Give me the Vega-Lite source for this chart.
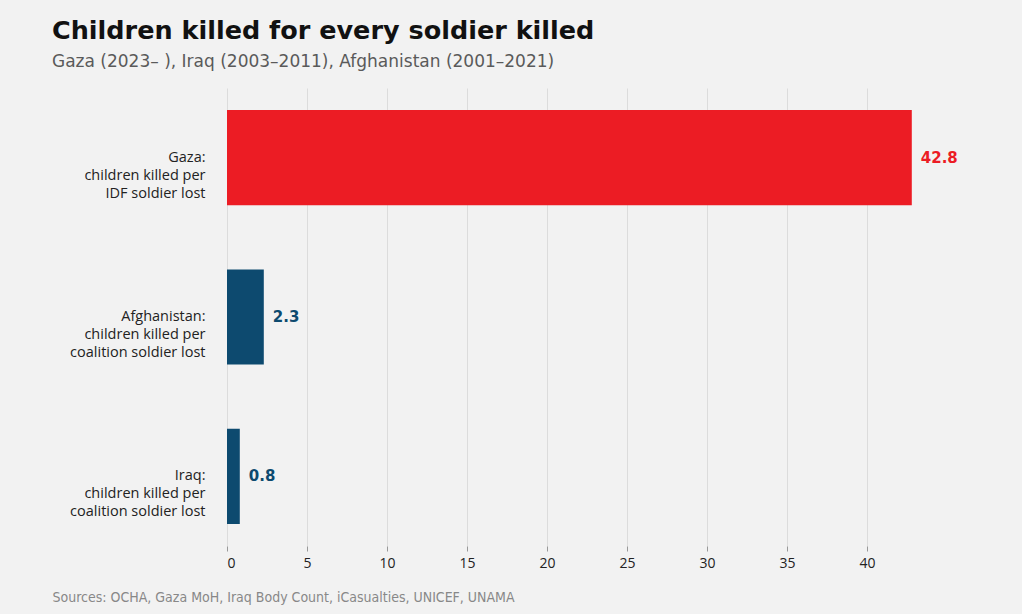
{
  "$schema": "https://vega.github.io/schema/vega-lite/v6.json",
  "autosize": {"type": "none"},
  "width": 720,
  "height": 458,
  "padding": {"left": 227, "top": 88, "right": 75, "bottom": 68},
  "background": "#f2f2f2",
  "title": {
    "text": "Children killed for every soldier killed",
    "subtitle": "Gaza (2023\u2013 ), Iraq (2003\u20132011), Afghanistan (2001\u20132021)",
    "anchor": "start",
    "frame": "group",
    "dx": -175,
    "offset": 18,
    "font": "DejaVu Sans",
    "fontSize": 25.5,
    "fontWeight": "bold",
    "color": "#111111",
    "subtitleFont": "DejaVu Sans",
    "subtitleFontSize": 17,
    "subtitleColor": "#5a5a5a",
    "subtitlePadding": 10
  },
  "data": {
    "values": [
      {"label": "Gaza:|children killed per|IDF soldier lost", "group": "Gaza", "ratio": 42.8},
      {"label": "Afghanistan:|children killed per|coalition soldier lost", "group": "Coalition", "ratio": 2.3},
      {"label": "Iraq:|children killed per|coalition soldier lost", "group": "Coalition", "ratio": 0.8}
    ]
  },
  "encoding": {
    "y": {
      "field": "label",
      "type": "nominal",
      "sort": null,
      "scale": {"paddingInner": 0.403, "paddingOuter": 0.138},
      "axis": {
        "title": null,
        "domain": false,
        "ticks": false,
        "labelExpr": "split(datum.label, '|')",
        "labelFont": "Open Sans",
        "labelFontSize": 14.5,
        "labelColor": "#222222",
        "labelLineHeight": 18,
        "labelPadding": 22,
        "labelAlign": "right"
      }
    },
    "x": {
      "field": "ratio",
      "type": "quantitative",
      "scale": {"domain": [0, 45], "nice": false},
      "axis": {
        "values": [0, 5, 10, 15, 20, 25, 30, 35, 40],
        "title": "Sources: OCHA, Gaza MoH, Iraq Body Count, iCasualties, UNICEF, UNAMA",
        "titleFont": "DejaVu Sans Condensed",
        "titleFontSize": 14,
        "titleFontWeight": "normal",
        "titleColor": "#888888",
        "titleAnchor": "start",
        "titleAlign": "left",
        "titleBaseline": "alphabetic",
        "titleX": -175,
        "titleY": 55,
        "domain": false,
        "grid": true,
        "gridColor": "#dcdcdc",
        "gridWidth": 1,
        "ticks": true,
        "tickColor": "#999999",
        "tickSize": 5,
        "offset": 0,
        "labelFont": "Open Sans",
        "labelFontSize": 14,
        "labelColor": "#222222",
        "labelPadding": 5
      }
    },
    "color": {
      "field": "group",
      "type": "nominal",
      "scale": {"domain": ["Gaza", "Coalition"], "range": ["#ec1c24", "#0d4a6f"]},
      "legend": null
    }
  },
  "layer": [
    {"mark": {"type": "bar"}},
    {
      "mark": {
        "type": "text",
        "align": "left",
        "baseline": "middle",
        "dx": 9,
        "font": "DejaVu Sans",
        "fontSize": 15,
        "fontWeight": "bold"
      },
      "encoding": {
        "text": {"field": "ratio", "type": "quantitative", "format": ".1f"}
      }
    }
  ],
  "config": {
    "view": {"stroke": null}
  }
}
